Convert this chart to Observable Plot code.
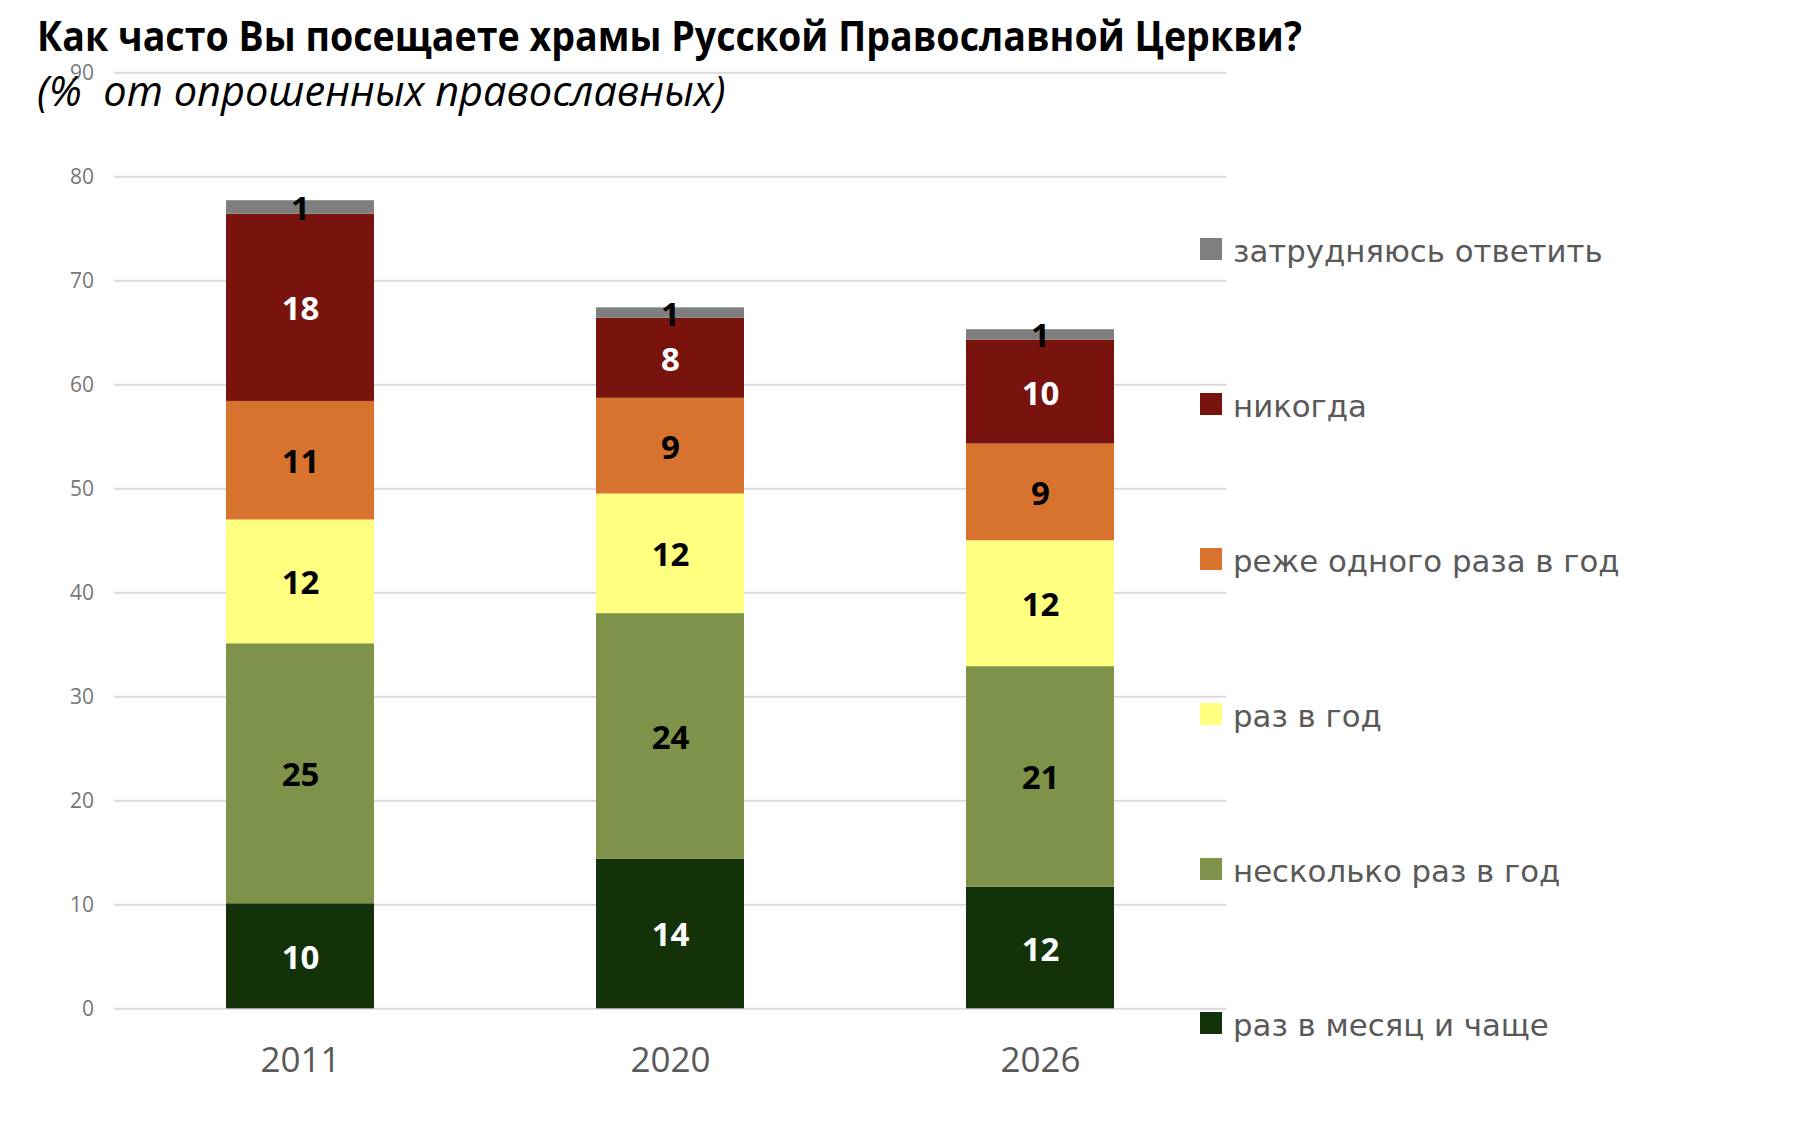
<!DOCTYPE html>
<html><head><meta charset="utf-8">
<script src="https://cdn.jsdelivr.net/npm/d3@7"></script>
<script src="https://cdn.jsdelivr.net/npm/@observablehq/plot@0.6"></script>
<style>
body{margin:0;background:#fff;}
#wrap{position:relative;width:1796px;height:1130px;overflow:hidden;}
#chart{position:absolute;left:0;top:0;}
.ttl{position:absolute;left:37px;white-space:pre;line-height:1;color:#000;font-family:'Open Sans',sans-serif;transform-origin:0 0;}
#title{top:14px;font-size:42px;font-weight:700;transform:scaleX(0.895);}
#subtitle{top:70px;font-size:41.5px;font-style:italic;}
.lg-sq{position:absolute;left:1200px;width:22px;height:22px;}
.lg-tx{position:absolute;left:1233px;white-space:pre;line-height:1;font-family:'DejaVu Sans',sans-serif;font-size:30.8px;color:#595959;}
</style></head><body>
<div id="wrap">
  <div id="chart"></div>
  <div id="title" class="ttl">Как часто Вы посещаете храмы Русской Православной Церкви?</div>
  <div id="subtitle" class="ttl">(%  от опрошенных православных)</div>
  <div id="legend"></div>
</div>
<script>
const years = ["2011", "2020", "2026"];
const categories = ["раз в месяц и чаще", "несколько раз в год", "раз в год", "реже одного раза в год", "никогда", "затрудняюсь ответить"];
const colors = ["#133209", "#7f9249", "#ffff80", "#d7732e", "#78130e", "#7f7f7f"];
const whiteLabel = [true, false, false, false, true, false];
const values2011 = [10.1, 25.0, 11.9, 11.4, 18.0, 1.3];
const values2020 = [14.4, 23.6, 11.5, 9.2, 7.7, 1.0];
const values2026 = [11.7, 21.2, 12.1, 9.3, 10.0, 1.0];
const yTicks = [0, 10, 20, 30, 40, 50, 60, 70, 80, 90];

const series = [values2011, values2020, values2026];
const data = [];
years.forEach((yr, i) => categories.forEach((c, j) => data.push({year: yr, category: c, value: series[i][j], white: whiteLabel[j]})));

const stackOpts = {x: "year", y: "value", z: "category", order: categories};

const chart = Plot.plot({
  width: 1796,
  height: 1130,
  marginTop: 72.3,
  marginBottom: 121.7,
  marginLeft: 114.5,
  marginRight: 570,
  style: {fontFamily: "'Open Sans', sans-serif", background: "#fff"},
  x: {domain: years, paddingInner: 0.6, paddingOuter: 0.3, label: null},
  y: {domain: [0, 90], label: null},
  color: {domain: categories, range: colors},
  marks: [
    Plot.ruleY(yTicks, {stroke: "#d9d9d9", strokeWidth: 2}),
    Plot.barY(data, {x: "year", y: "value", fill: "category", order: categories}),
    Plot.text(data, Plot.stackY({...stackOpts, text: d => d.white ? String(Math.round(d.value)) : "", fill: "#fff", fontSize: 33, fontWeight: 700, dy: 2})),
    Plot.text(data, Plot.stackY({...stackOpts, text: d => d.white ? "" : String(Math.round(d.value)), fill: "#000", fontSize: 33, fontWeight: 700, dy: 2})),
    Plot.axisY(yTicks, {tickSize: 0, tickPadding: 21, fontSize: 21, fill: "#777", label: null}),
    Plot.axisX({tickSize: 0, tickPadding: 38, fontSize: 35, fill: "#595959", label: null})
  ]
});
document.getElementById("chart").appendChild(chart);

// legend (top to bottom = reverse stacking order)
const legendCenters = [249, 404, 559, 714, 869, 1023];
const legend = d3.select("#legend");
categories.slice().reverse().forEach((c, i) => {
  const j = categories.indexOf(c);
  const cy = legendCenters[i];
  legend.append("div").attr("class", "lg-sq").style("top", (cy - 11) + "px").style("background", colors[j]);
  legend.append("div").attr("class", "lg-tx").style("top", (cy - 13.1) + "px").text(c);
});
</script>
</body></html>
